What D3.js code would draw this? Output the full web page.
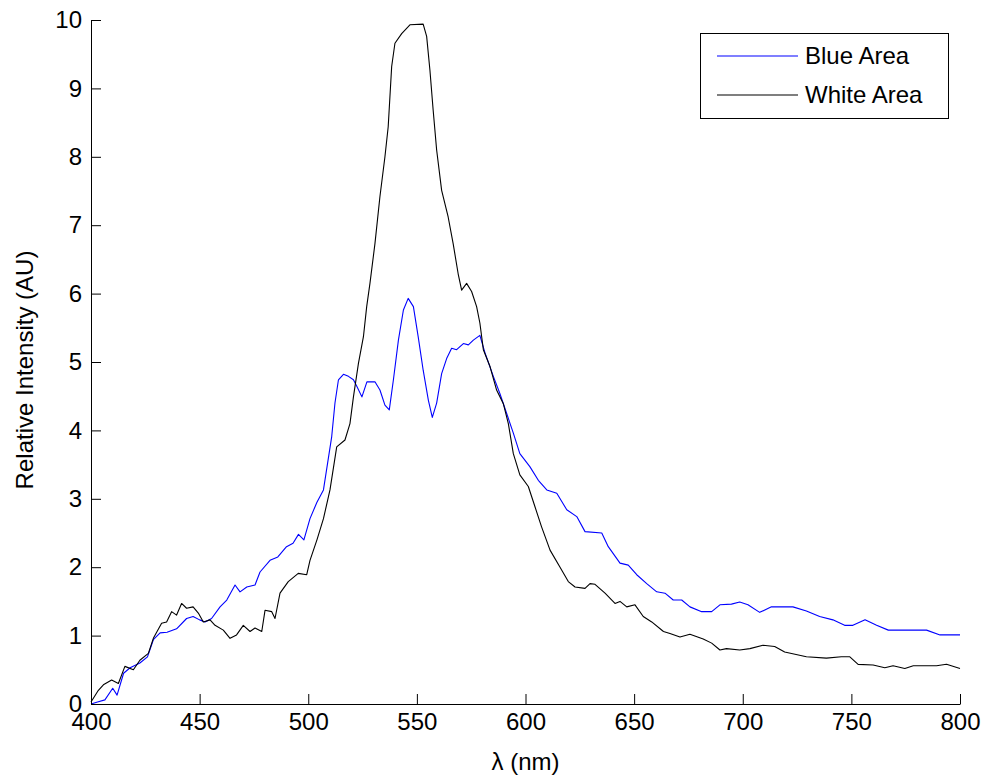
<!DOCTYPE html>
<html>
<head>
<meta charset="utf-8">
<script src="https://cdn.jsdelivr.net/npm/d3@7"></script>
<style>
  html, body { margin: 0; padding: 0; background: #fff; }
  svg { display: block; font-family: "Liberation Sans", Arial, sans-serif; }
</style>
</head>
<body>
<svg id="chart" width="984" height="778"></svg>
<script>
// ---- data ----
const seriesNames = ["Blue Area", "White Area"];
const xTicks = [400, 450, 500, 550, 600, 650, 700, 750, 800];
const yTicks = [0, 1, 2, 3, 4, 5, 6, 7, 8, 9, 10];

const blueWl = [400,403,406.4,410,412,415,418,422.5,426,428.7,431.8,435,439.4,444,447,450,452.5,455.5,459.4,462.5,466.3,468.6,471.7,475.5,477.8,482.4,486,490,493,495.5,498,500.8,504,507,510.8,512.3,513.9,516.2,518.5,520.8,522.4,524.7,527,530.7,533,535.3,537.3,539.2,541.5,543.8,546,548.4,550.6,552.9,555.3,557.1,559.1,561.4,563.7,566,568.3,571.4,573.7,576,579,581.4,585.2,588.2,591.3,594.4,597.4,602,605.9,609.8,614.4,619,623.6,627.4,635.1,638.1,643.5,647.3,651.2,655.8,660.4,664.2,668,671.9,675.7,681.1,685.7,689.5,694.8,698.6,702.4,707.8,713.2,723.1,729.3,735.4,741.5,746.9,750.7,756.3,761.6,767,784.6,790.8,800];
const blueVal = [0.0,0.03,0.06,0.23,0.13,0.45,0.53,0.6,0.69,0.94,1.04,1.05,1.1,1.25,1.28,1.23,1.2,1.25,1.42,1.52,1.74,1.64,1.71,1.74,1.93,2.1,2.15,2.3,2.35,2.48,2.4,2.71,2.95,3.13,3.91,4.40,4.74,4.82,4.79,4.74,4.64,4.49,4.71,4.71,4.59,4.37,4.30,4.74,5.32,5.76,5.93,5.81,5.37,4.88,4.44,4.19,4.40,4.83,5.05,5.2,5.18,5.27,5.25,5.32,5.39,5.13,4.79,4.54,4.25,3.96,3.66,3.47,3.27,3.13,3.08,2.84,2.74,2.52,2.50,2.30,2.06,2.03,1.89,1.76,1.64,1.62,1.52,1.52,1.42,1.35,1.35,1.45,1.46,1.49,1.45,1.34,1.42,1.42,1.36,1.28,1.23,1.15,1.15,1.23,1.15,1.08,1.08,1.01,1.01];

const whiteWl = [400,403.4,405.7,409.5,412.6,415.6,419.5,422.5,426.4,428.7,432.5,434.8,437.1,439.4,441.7,444,447,449.4,451.7,454.8,457.1,460.9,464,467,470.1,473.2,475.5,478.6,480.1,483.2,484.7,487,490.8,495.4,499.3,500.8,504,507,510,513.1,516.9,519.2,520.8,523.1,525.4,526.9,528.4,530.7,533,535.3,536.8,538.4,539.9,543,546.8,552.9,554.5,556,557.5,559.1,561.4,564.4,566.7,569,570.6,572.9,575.2,577.5,579,580.6,583.7,586.7,589.8,592.1,594.4,597.4,601.3,604.4,607.4,611.3,615.9,619.7,622.8,627.4,629.7,632,636.6,641.2,643.5,646.6,650.4,654.2,658.1,663.5,666.5,671.1,675.7,681.8,685.7,689.5,692.5,698.6,703.3,709.3,714.7,719.3,729.3,738.5,745.4,749.3,753.1,760,765.4,769.2,774.6,778.5,789.2,793.8,800];
const whiteVal = [0.03,0.2,0.28,0.35,0.3,0.55,0.5,0.64,0.74,0.96,1.18,1.2,1.35,1.3,1.47,1.4,1.42,1.33,1.2,1.23,1.15,1.08,0.96,1.01,1.15,1.06,1.11,1.06,1.37,1.35,1.25,1.62,1.79,1.91,1.89,2.1,2.4,2.71,3.13,3.76,3.86,4.1,4.49,4.98,5.37,5.81,6.15,6.73,7.42,8.0,8.44,9.32,9.66,9.80,9.93,9.94,9.76,9.27,8.68,8.1,7.51,7.12,6.73,6.29,6.05,6.15,6.03,5.81,5.57,5.18,4.93,4.59,4.39,4.10,3.66,3.35,3.18,2.88,2.59,2.25,2.0,1.79,1.71,1.69,1.76,1.75,1.62,1.47,1.50,1.42,1.45,1.28,1.20,1.06,1.03,0.98,1.02,0.95,0.89,0.79,0.81,0.79,0.81,0.86,0.84,0.76,0.69,0.67,0.69,0.69,0.58,0.57,0.53,0.56,0.52,0.56,0.56,0.58,0.52];

const colors = ["#0000ff", "#000000"];

(function () {
  const svg = d3.select("#chart");
  const mLeft = 91, mRight = 960, mTop = 20, mBottom = 704;
  const fontSize = 24;

  const x = d3.scaleLinear().domain([400, 800]).range([mLeft, mRight]);
  const y = d3.scaleLinear().domain([0, 10]).range([mBottom, mTop]);

  const series = [
    blueWl.map((w, i) => [w, blueVal[i]]),
    whiteWl.map((w, i) => [w, whiteVal[i]])
  ];

  const line = d3.line().x(d => x(d[0])).y(d => y(d[1]));

  series.forEach((s, i) => {
    svg.append("path")
      .datum(s)
      .attr("fill", "none")
      .attr("stroke", colors[i])
      .attr("stroke-width", 1.1)
      .attr("stroke-linejoin", "round")
      .attr("d", line);
  });

  const xAxis = d3.axisBottom(x).tickValues(xTicks).tickFormat(d3.format("d"))
    .tickSizeInner(-10).tickSizeOuter(0).tickPadding(9);
  const yAxis = d3.axisLeft(y).tickValues(yTicks).tickFormat(d3.format("d"))
    .tickSizeInner(-10).tickSizeOuter(0).tickPadding(9);

  const gx = svg.append("g").attr("transform", `translate(0,${mBottom})`).call(xAxis);
  const gy = svg.append("g").attr("transform", `translate(${mLeft},0)`).call(yAxis);

  [gx, gy].forEach(g => {
    g.selectAll("path.domain").attr("stroke", "#000").attr("stroke-width", 1);
    g.selectAll(".tick line").attr("stroke", "#000").attr("stroke-width", 1);
    g.selectAll(".tick text").attr("fill", "#000")
      .style("font-family", '"Liberation Sans", Arial, sans-serif')
      .style("font-size", fontSize + "px");
  });

  svg.append("text")
    .attr("x", (mLeft + mRight) / 2)
    .attr("y", 770)
    .attr("text-anchor", "middle")
    .style("font-size", fontSize + "px")
    .attr("fill", "#000")
    .text("λ (nm)");

  svg.append("text")
    .attr("transform", `translate(33,${(mTop + mBottom) / 2 + 8}) rotate(-90)`)
    .attr("text-anchor", "middle")
    .style("font-size", fontSize + "px")
    .attr("fill", "#000")
    .text("Relative Intensity (AU)");

  const lg = svg.append("g");
  lg.append("rect")
    .attr("x", 700.5).attr("y", 33.5)
    .attr("width", 248).attr("height", 85)
    .attr("fill", "#fff").attr("stroke", "#000").attr("stroke-width", 1);
  seriesNames.forEach((name, i) => {
    const ly = 56 + i * 39;
    lg.append("line")
      .attr("x1", 717).attr("x2", 798)
      .attr("y1", ly).attr("y2", ly)
      .attr("stroke", colors[i]).attr("stroke-width", 1.1);
    lg.append("text")
      .attr("x", 805).attr("y", ly)
      .attr("dy", "0.35em")
      .style("font-size", fontSize + "px")
      .attr("fill", "#000")
      .text(name);
  });
})();
</script>
</body>
</html>
